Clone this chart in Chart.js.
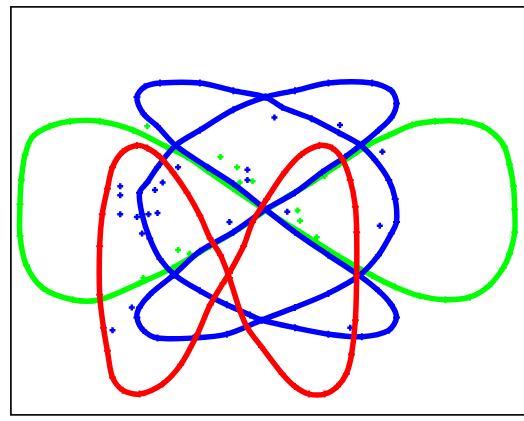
<!DOCTYPE html>
<html>
<head>
<meta charset="utf-8">
<script src="https://cdn.jsdelivr.net/npm/chart.js@4/dist/chart.umd.min.js"></script>
<style>
  html, body { margin: 0; padding: 0; background: #fff; overflow: hidden; }
  #wrap { width: 540px; height: 421px; }
</style>
</head>
<body>
<div id="wrap"><canvas id="c" width="540" height="421"></canvas></div>
<script>
// Traced closed curves (x, y pairs in plot units)
const redX = [-0.30,-0.19,-0.12,-0.01,0.13,0.26,0.40,0.50,0.58,0.64,0.68,0.69,0.69,0.68,0.65,0.61,0.54,0.44,0.32,0.21,0.11,-0.05,-0.16,-0.22,-0.30,-0.37,-0.45,-0.53,-0.63,-0.74,-0.84,-0.94,-1.02,-1.13,-1.21,-1.25,-1.29,-1.31,-1.31,-1.28,-1.25,-1.21,-1.13,-1.00,-0.82,-0.68,-0.55,-0.45,-0.35,-0.30];
const redY = [-0.49,-0.28,-0.09,0.09,0.30,0.44,0.51,0.49,0.40,0.24,0.03,-0.17,-0.51,-0.86,-1.13,-1.28,-1.38,-1.44,-1.44,-1.38,-1.28,-1.07,-0.92,-0.78,-0.53,-0.35,-0.22,-0.04,0.14,0.30,0.42,0.49,0.51,0.46,0.34,0.17,-0.03,-0.28,-0.66,-0.92,-1.10,-1.31,-1.41,-1.44,-1.36,-1.21,-0.97,-0.74,-0.57,-0.49];

const blueX = [-0.02,0.21,0.42,0.60,0.73,0.86,0.96,1.00,0.96,0.81,0.47,0.21,-0.02,-0.27,-0.53,-0.72,-0.86,-0.94,-1.00,-0.98,-0.92,-0.84,-0.72,-0.53,-0.32,-0.14,-0.05,0.21,0.47,0.73,0.94,1.00,0.96,0.86,0.71,0.47,0.21,-0.02,-0.27,-0.47,-0.72,-0.86,-0.97,-1.02,-0.96,-0.84,-0.53,-0.27,-0.02,0.11,0.34,0.55,0.71,0.83,0.94,0.99,1.00,0.96,0.86,0.71,0.47,0.21,-0.05,-0.32,-0.58,-0.86,-0.97,-1.02,-1.00,-0.92,-0.74,-0.53,-0.27,-0.02];
const blueY = [0.01,0.14,0.30,0.42,0.52,0.63,0.73,0.84,0.94,1.00,1.00,0.94,0.89,0.79,0.63,0.51,0.34,0.22,0.14,-0.03,-0.22,-0.38,-0.51,-0.63,-0.74,-0.82,-0.86,-0.92,-0.97,-0.99,-0.94,-0.84,-0.74,-0.63,-0.51,-0.35,-0.17,0.01,0.21,0.34,0.51,0.66,0.76,0.89,0.97,1.00,1.00,0.94,0.89,0.81,0.72,0.61,0.52,0.40,0.24,0.09,-0.09,-0.18,-0.35,-0.51,-0.65,-0.76,-0.86,-0.97,-1.00,-1.00,-0.94,-0.84,-0.76,-0.66,-0.51,-0.32,-0.17,0.01];

const greenX = [-0.02,0.17,0.34,0.55,0.79,0.94,1.12,1.30,1.51,1.67,1.78,1.84,1.88,1.91,1.92,1.92,1.88,1.83,1.72,1.57,1.38,1.18,0.99,0.81,0.55,0.25,-0.02,-0.27,-0.47,-0.63,-0.79,-1.05,-1.31,-1.54,-1.70,-1.83,-1.89,-1.92,-1.93,-1.93,-1.88,-1.75,-1.52,-1.31,-1.00,-0.74,-0.45,-0.22,-0.02];
const greenY = [0.00,0.12,0.22,0.36,0.52,0.59,0.67,0.70,0.70,0.66,0.58,0.50,0.36,0.19,0.01,-0.17,-0.34,-0.45,-0.59,-0.68,-0.70,-0.67,-0.60,-0.51,-0.36,-0.17,0.00,0.17,0.31,0.42,0.50,0.63,0.70,0.70,0.66,0.58,0.44,0.24,0.05,-0.20,-0.43,-0.61,-0.70,-0.70,-0.57,-0.45,-0.28,-0.14,0.00];

// Stray samples lying off the main traces
const blueStrayX = [-1.15,-1.15,-1.15,-1.02,-0.93,-0.86,-0.82,-0.88,-0.70,-0.16,-0.16,-0.30,-1.21,-1.06,0.87,0.05,0.56,0.89,0.64,0.15,-0.98];
const blueStrayY = [0.19,0.12,-0.03,-0.05,-0.03,-0.02,0.22,0.16,0.34,0.32,0.24,-0.09,-0.94,-0.76,-0.12,0.73,0.67,0.46,-0.92,-0.01,-0.18];
const greenStrayX = [-0.37,-0.24,-0.12,-0.94,-0.97,-0.70,-0.61,0.23,0.25,0.38,0.44,-0.22];
const greenStrayY = [0.42,0.34,0.23,0.66,-0.53,-0.31,-0.34,0.00,-0.08,-0.21,0.27,0.22];

const RED = '#ff0000', BLUE = '#0000ff', GREEN = '#00ff00';

function pts(xs, ys) { return xs.map((x, i) => ({ x, y: ys[i] })); }

function curve(xs, ys, color) {
  return {
    data: pts(xs, ys),
    showLine: true,
    borderColor: color,
    backgroundColor: color,
    borderWidth: 5.5,
    tension: 0.3,
    pointStyle: 'cross',
    pointRadius: 3.5,
    pointBorderWidth: 2,
    pointBorderColor: color
  };
}

function stray(xs, ys, color) {
  return {
    data: pts(xs, ys),
    showLine: false,
    pointStyle: 'cross',
    pointRadius: 3,
    pointBorderWidth: 2.5,
    borderColor: color,
    backgroundColor: color
  };
}

// Frame-only axes: no ticks or labels, and they take up no room
const frameAxis = (position) => ({
  type: 'linear',
  position,
  min: position === 'left' ? -1.6 : -2,
  max: position === 'left' ? 1.6 : 2,
  ticks: { display: false },
  grid: { display: false, drawTicks: false },
  border: { display: true, color: '#111', width: 1.8 },
  afterFit: (scale) => {
    if (scale.isHorizontal()) scale.height = 0; else scale.width = 0;
  }
});

new Chart(document.getElementById('c'), {
  type: 'scatter',
  data: {
    datasets: [
      curve(redX, redY, RED),
      curve(blueX, blueY, BLUE),
      stray(blueStrayX, blueStrayY, BLUE),
      stray(greenStrayX, greenStrayY, GREEN),
      curve(greenX, greenY, GREEN)
    ]
  },
  options: {
    responsive: false,
    animation: false,
    layout: { padding: { left: 11, top: 5, right: 15, bottom: 1 } },
    plugins: { legend: { display: false }, tooltip: { enabled: false } },
    scales: {
      x: frameAxis('bottom'),
      xTop: frameAxis('top'),
      y: frameAxis('left')
    }
  }
});
</script>
</body>
</html>
